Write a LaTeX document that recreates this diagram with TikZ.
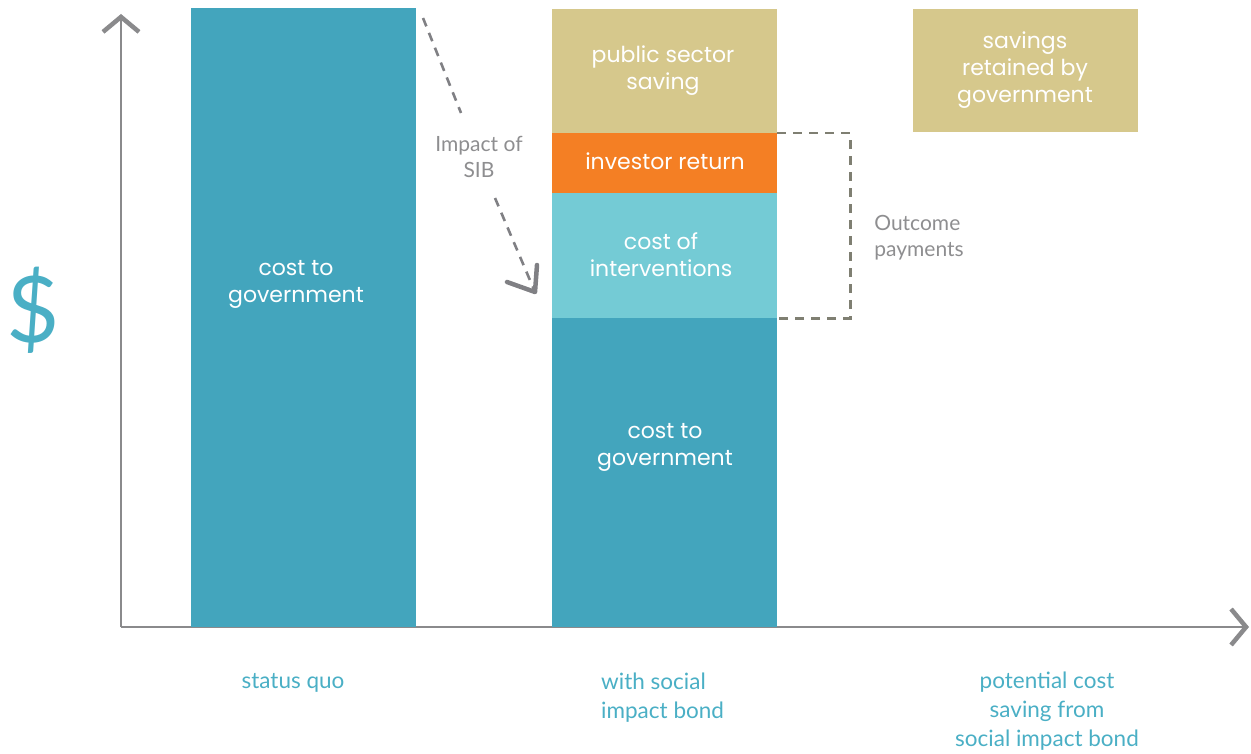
\documentclass[tikz,border=0pt]{standalone}
\usepackage{fontspec}
\setmainfont{Lato}
\newfontfamily\handfont{Poppins}
\usetikzlibrary{arrows.meta}
\definecolor{govblue}{HTML}{43A5BD}
\definecolor{savetan}{HTML}{D6C88C}
\definecolor{invorange}{HTML}{F47F24}
\definecolor{intcyan}{HTML}{74CBD5}
\definecolor{labteal}{HTML}{4AAFC5}
\definecolor{axisgray}{HTML}{8A8A8C}
\definecolor{dashgray}{HTML}{7F7F72}
\definecolor{arrowgray}{HTML}{808084}
\definecolor{notegray}{HTML}{8E8E90}
\tikzset{
  block/.style={draw=none, inner sep=0pt, minimum width=225pt},
  blocktext/.style={text=white, font=\handfont\fontsize{22}{27}\selectfont, align=center, inner sep=0pt},
  note/.style={text=notegray, font=\fontsize{21}{26}\selectfont, align=center, inner sep=0pt},
  caption/.style={text=labteal, font=\fontsize{22.5}{29}\selectfont, inner sep=0pt},
  axis/.style={draw=axisgray, line width=2.6pt, -{Straight Barb[length=15pt,width=36pt,line width=4.5pt]}},
  dashline/.style={draw=dashgray, line width=2.6pt, dash pattern=on 9pt off 7pt},
  impactline/.style={draw=arrowgray, line width=2.6pt, dash pattern=on 9pt off 7pt}
}
\begin{document}
\begin{tikzpicture}[x=1pt,y=-1pt]
\useasboundingbox (0,0) rectangle (1251,754);

% axes
\coordinate (o) at (121,627);
\coordinate (ytip) at (121,14);
\coordinate (xtip) at (1249,627);
\draw[axis] (o) -- (ytip);
\draw[axis] (o) -- (xtip);

% status quo bar
\node[block, fill=govblue, minimum height=619pt] (sq) at (303.5,317.5) {};
\node[blocktext] (sqt) at (296,284) {cost to\\government};

% bar with social impact bond, stacked
\node[block, fill=savetan, minimum height=124pt] (pss) at (664.5,71) {};
\node[block, fill=invorange, minimum height=60pt] (inv) at (664.5,163) {};
\node[block, fill=intcyan, minimum height=125pt] (coi) at (664.5,255.5) {};
\node[block, fill=govblue, minimum height=309pt] (cg) at (664.5,472.5) {};
\node[blocktext] (psst) at (663,71) {public sector\\saving};
\node[blocktext] (invt) at (665,161) {investor return};
\node[blocktext] (coit) at (661,255) {cost of\\interventions};
\node[blocktext] (cgt) at (665,447) {cost to\\government};

% retained savings
\node[block, fill=savetan, minimum height=123pt] (ret) at (1025.5,70.5) {};
\node[blocktext] (rett) at (1025,70) {savings\\retained by\\government};

% outcome payments bracket
\draw[dashline] (pss.south east) -- ++(73,0) coordinate (bk) |- (coi.south east);
\node[note, align=left] (op) at (919,238) {Outcome\\payments};

% impact arrow
\node[note] (sib) at (479,157) {Impact of\\SIB};
\coordinate (a0) at (423,18);
\coordinate (a1) at (461,113);
\coordinate (a2) at (495,198);
\coordinate (a3) at (535,292);
\draw[impactline] (a0) -- (a1);
\draw[impactline] (a2) -- (a3);
\draw[draw=arrowgray, line width=4.5pt, line cap=round, line join=round] (537,265) -- (a3) -- (507,282);

% currency sign
\node[text=labteal, font=\fontsize{92}{92}\selectfont, inner sep=0pt] (cur) at (33,310) {\$};

% captions
\node[caption] (c1) at (293,683) {status quo};
\node[caption, align=left, anchor=west] (c2) at (601,697.5) {with social\\impact bond};
\node[caption, align=center] (c3) at (1047,711.5) {potential cost\\saving from\\social impact bond};
\end{tikzpicture}
\end{document}
